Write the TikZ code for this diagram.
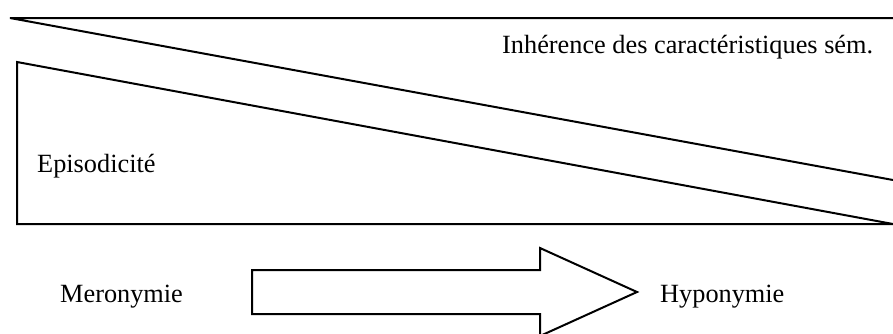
\documentclass[tikz,border=0pt]{standalone}
\usepackage{fontspec}
\setmainfont{Liberation Serif}
\begin{document}
\begin{tikzpicture}[x=1pt,y=-1pt,
  shapeline/.style={draw=black,line width=2pt,line join=miter},
  lbl/.style={anchor=base west,inner sep=0pt,font=\fontsize{26.3}{30}\selectfont}]
\useasboundingbox (0,0) rectangle (893,333);
\clip (0,0) rectangle (893,333);
% upper wedge
\coordinate (ta) at (10,18);
\coordinate (tb) at (893,18);
\coordinate (tc) at (893,180);
\draw[shapeline] (tb) -- (ta) -- (tc);
% lower wedge
\coordinate (la) at (17,62);
\coordinate (lb) at (17,224);
\coordinate (lc) at (893,224);
\draw[shapeline] (la) -- (lb) -- (lc) -- cycle;
% block arrow
\draw[shapeline] (252,270) -- (540,270) -- (540,248) -- (637,292) -- (540,336) -- (540,314) -- (252,314) -- cycle;
% labels
\node[lbl] (inh) at (502,53) {Inhérence des caractéristiques sém.};
\node[lbl] (epi) at (37,172) {Episodicité};
\node[lbl] (mer) at (60,302) {Meronymie};
\node[lbl] (hyp) at (660,302) {Hyponymie};
\end{tikzpicture}
\end{document}
